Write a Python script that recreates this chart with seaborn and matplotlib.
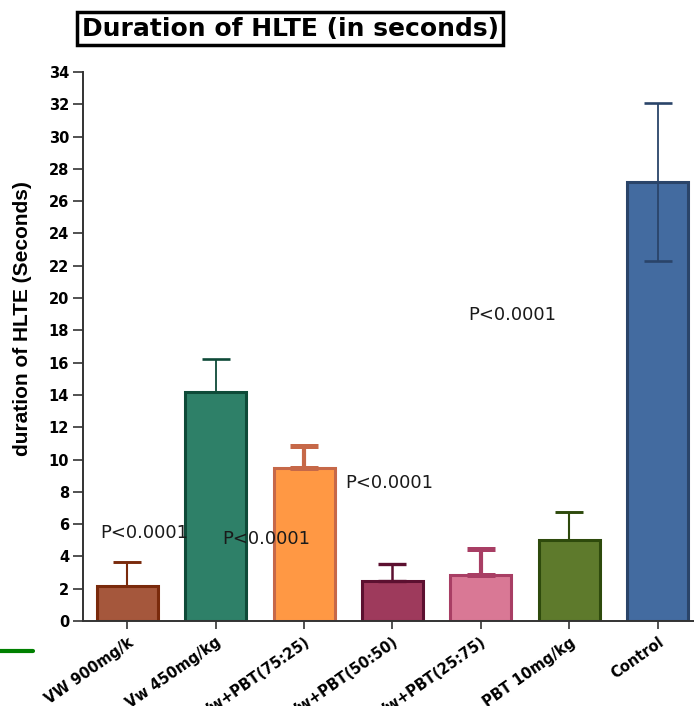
import matplotlib
matplotlib.use("Agg")
import matplotlib.pyplot as plt
import seaborn as sns
import pandas as pd
from matplotlib.lines import Line2D

GROUPS = ["VW 900mg/k", "Vw 450mg/kg", "Vw+PBT(75:25)", "Vw+PBT(50:50)",
          "Vw+PBT(25:75)", "PBT 10mg/kg", "Control"]
MEANS = [2.15, 14.2, 9.5, 2.5, 2.85, 5.0, 27.2]
ERR_UP = [1.5, 2.0, 1.35, 1.05, 1.6, 1.75, 4.9]
ERR_DOWN = [0, 0, 0, 0, 0, 0, 4.9]
FILL_COLORS = ["#a5573c", "#2e8068", "#ff9844", "#9e3a5c", "#d97895", "#5e7a2c", "#436ba0"]
EDGE_COLORS = ["#7a2a0c", "#0e4a38", "#c66848", "#5c1030", "#a83e64", "#2e4a0c", "#2a4469"]
ERR_WIDTHS = [1.5, 1.3, 3.0, 1.8, 3.0, 1.5, 1.3]
P_TEXT = ["P<0.0001", "P<0.0001", "P<0.0001", "P<0.0001"]
P_X = [-0.3, 1.57, 2.96, 4.35]
P_Y = [5.45, 5.1, 8.55, 18.95]

sns.set_style("ticks")
plt.rcParams["font.family"] = ["DejaVu Sans"]
plt.rcParams["text.color"] = "black"
plt.rcParams["xtick.labelcolor"] = "black"
plt.rcParams["ytick.labelcolor"] = "black"
plt.rcParams["axes.labelcolor"] = "black"

fig = plt.figure(figsize=(6.94, 7.06), dpi=100)
ax = fig.add_axes([0.1196, 0.1204, 0.8804, 0.7776])

df = pd.DataFrame({"group": GROUPS, "mean": MEANS})
sns.barplot(data=df, x="group", y="mean", hue="group", palette=FILL_COLORS,
            saturation=1, width=0.69, legend=False, ax=ax, zorder=2)

for patch, ec in zip(ax.patches, EDGE_COLORS):
    patch.set_edgecolor(ec)
    patch.set_linewidth(2.2)

for i in range(len(GROUPS)):
    ax.errorbar(i, MEANS[i], yerr=[[ERR_DOWN[i]], [ERR_UP[i]]], fmt="none",
                ecolor=EDGE_COLORS[i], elinewidth=ERR_WIDTHS[i],
                capsize=10, capthick=ERR_WIDTHS[i] + 0.6, zorder=3)

for t, x, y in zip(P_TEXT, P_X, P_Y):
    ax.text(x, y, t, fontsize=13, color="#1a1a1a", va="center",
            ha="left" if x < 0 else "center")

ax.set_ylim(0, 34)
ax.set_xlim(-0.5, 6.41)
ax.set_yticks(range(0, 35, 2))
ax.set_xlabel("")
ax.set_ylabel("duration of HLTE (Seconds)", fontsize=15, fontweight="bold",
              fontfamily="Liberation Sans")
ax.yaxis.set_label_coords(-0.083, 0.55)
ax.set_xticks(range(len(GROUPS)))
ax.set_xticklabels(GROUPS, rotation=35, ha="right", rotation_mode="anchor",
                   fontsize=10.5, fontweight="bold")
for lab in ax.get_yticklabels():
    lab.set_fontweight("bold")
    lab.set_fontsize(10.5)

ax.spines["top"].set_visible(False)
ax.spines["right"].set_visible(False)
for s in ["left", "bottom"]:
    ax.spines[s].set_color("#333333")
    ax.spines[s].set_linewidth(1.4)
ax.tick_params(axis="y", length=7, width=1.2, color="#333333", pad=3)
ax.tick_params(axis="x", length=6, width=1.2, color="#333333", pad=4)

fig.text(0.418, 0.959, "Duration of HLTE (in seconds)", ha="center", va="center",
         fontsize=18, fontweight="bold", color="black",
         bbox=dict(boxstyle="square,pad=0.18", facecolor="white",
                   edgecolor="black", linewidth=2.5))

fig.add_artist(Line2D([0, 0.048], [0.078, 0.078], color="#008000", linewidth=3,
                      transform=fig.transFigure))

fig.savefig("out.png", dpi=100)
